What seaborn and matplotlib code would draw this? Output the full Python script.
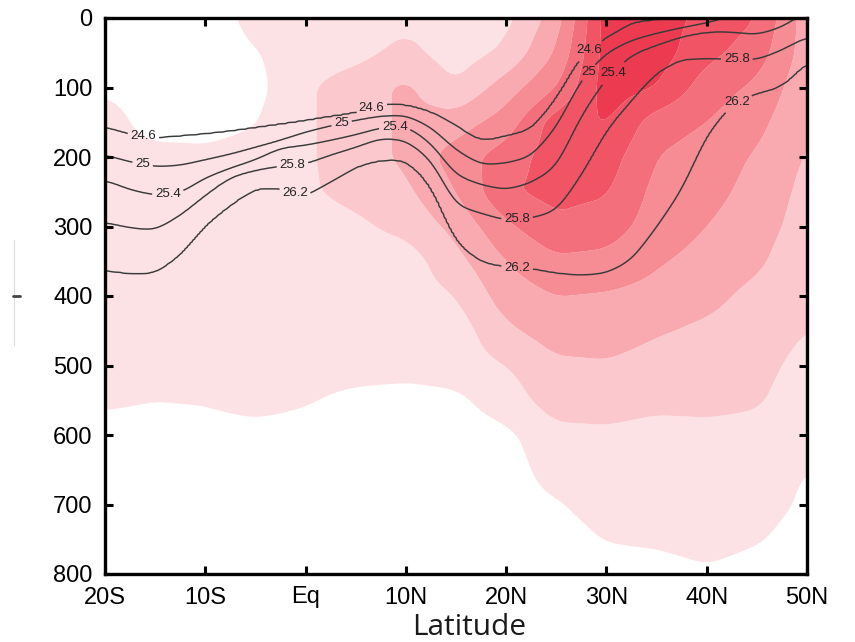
import numpy as np
import matplotlib
matplotlib.use("Agg")
import matplotlib.pyplot as plt
from matplotlib.lines import Line2D
import seaborn as sns

# ---------------- data ----------------
lat_nodes = [-20, -17.5, -15, -12.5, -10, -7.5, -5, -2.5, 0, 2.5, 5, 7.5, 10, 12.5,
             15, 17.5, 20, 22.5, 25, 27.5, 30, 32.5, 35, 37.5, 40, 42.5, 45, 47.5, 50]
sigma_levels = [24.6, 25.0, 25.4, 25.8, 26.2]
# depth (m) of each isopycnal at lat_nodes (negative = outcropped)
depth_246 = [157, 168, 173, 170, 167, 163, 158, 153, 148, 142, 137, 125, 125, 135,
             155, 178, 170, 161, 117, 55, 29, 7, 3, -2, -8, -14, -20, -26, -32]
depth_250 = [197, 207, 214, 212, 204, 196, 186, 176, 164, 155, 147, 141, 140, 157,
             190, 211, 209, 199, 157, 88, 50, 32, 22, 14, 7, -3, -10, -17, -24]
depth_254 = [233, 247, 255, 252, 230, 216, 204, 187, 183, 176, 168, 158, 155, 180,
             226, 240, 247, 237, 214, 140, 86, 53, 39, 27, 20, 20, 24, 13, -10]
depth_258 = [294, 302, 305, 284, 255, 229, 219, 213, 210, 197, 186, 173, 176, 204,
             269, 281, 291, 288, 277, 226, 161, 118, 78, 59, 58, 59, 60, 46, 27]
depth_262 = [363, 368, 367, 341, 298, 269, 245, 245, 256, 236, 214, 204, 204, 240,
             322, 351, 358, 360, 367, 370, 367, 348, 301, 247, 168, 124, 108, 99, 63]

label_text = {24.6: "24.6", 25.0: "25", 25.4: "25.4", 25.8: "25.8", 26.2: "26.2"}
label_spots = [(-16.2, 174), (-16.3, 214), (-13.7, 255), (-1.3, 212), (-1.1, 255),
               (6.6, 130), (3.6, 152), (8.9, 157),
               (21.1, 292), (21.1, 358),
               (28.2, 45), (28.0, 76), (30.7, 80),
               (43.0, 59), (43.0, 120)]

# shading band index (0 = white ... 7 = darkest) on a 5 deg x 50 m grid
shade_lats = [-20, -15, -10, -5, 0, 5, 10, 15, 20, 25, 30, 35, 40, 45, 50]
shade_depths = [0, 50, 100, 150, 200, 250, 300, 350, 400, 450, 500, 550, 600, 650, 700, 750, 800]
shade_000 = [0, 0, 0, 0.8, 1, 1, 1.2, 1, 1.2, 3, 7, 7, 6.2, 5.5, 3]
shade_050 = [0, 0, 0, 0.45, 1, 1.2, 1.8, 1.0, 1.7, 3.6, 7, 7, 5.8, 5, 3]
shade_100 = [0.3, 0, 0, 0.2, 1.36, 2, 2.7, 1.6, 3, 4.5, 7, 6.5, 5, 4.3, 2.8]
shade_150 = [1, 0, 0, 0.45, 1.36, 2, 2.7, 3, 4, 6, 6.6, 5, 4.5, 3.8, 2.6]
shade_200 = [1, 0.9, 0.8, 1, 1.36, 2, 2.7, 4, 5, 6, 6, 4.5, 4, 3.4, 2.4]
shade_250 = [1, 1, 1, 1, 1.36, 1.8, 2.3, 3.5, 5.4, 5.8, 5.6, 4.2, 3.8, 3.2, 2.2]
shade_300 = [1, 1, 1, 1, 1, 1.3, 1.8, 2.8, 4.3, 5.3, 5, 4, 3.5, 3, 2]
shade_350 = [1, 1, 1, 1, 1, 1, 1, 2.2, 3.5, 4.3, 4.2, 3.6, 3.2, 2.7, 1.7]
shade_400 = [1, 1, 1, 1, 1, 1, 1, 1.5, 3, 3.5, 3.4, 3.2, 2.8, 2.2, 1.6]
shade_450 = [1, 1, 1, 1, 1, 1, 1, 1, 2.3, 3, 3, 2.6, 2.3, 2, 1.5]
shade_500 = [1, 1, 1, 1, 1, 1, 1, 1, 1.5, 2.3, 2.4, 2.1, 2, 1.8, 1.2]
shade_550 = [0.7, 0.52, 0.6, 1, 0.6, 0.2, 0, 0.3, 1, 2, 2, 1.8, 1.8, 1.6, 1]
shade_600 = [0, 0, 0, 0, 0, 0, 0, 0, 0.3, 1.2, 1.3, 1.1, 1.2, 1.2, 0.8]
shade_650 = [0, 0, 0, 0, 0, 0, 0, 0, 0, 1, 1, 1, 1, 1, 0.5]
shade_700 = [0, 0, 0, 0, 0, 0, 0, 0, 0, 0.4, 1, 1, 1, 1, 0.3]
shade_750 = [0, 0, 0, 0, 0, 0, 0, 0, 0, 0, 0.55, 0.7, 1, 0.6, 0]
shade_800 = [0, 0, 0, 0, 0, 0, 0, 0, 0, 0, 0, 0, 0.3, 0, 0]
shade_colors = ["#fde2e5", "#fbc9cd", "#f9aab0", "#f68c94", "#f36f7b", "#f05465", "#ec3a50"]

x_ticks = [-20, -10, 0, 10, 20, 30, 40, 50]
x_ticklabels = ["20S", "10S", "Eq", "10N", "20N", "30N", "40N", "50N"]
y_ticks = [0, 100, 200, 300, 400, 500, 600, 700, 800]


# ---------------- helpers (rendering grids built from the data) ----------------
def smooth1d(a, w, axis):
    pad = w // 2
    widths = [(pad, pad) if i == axis else (0, 0) for i in range(a.ndim)]
    ap = np.pad(a, widths, mode="edge")
    k = np.ones(w) / w
    return np.apply_along_axis(lambda v: np.convolve(v, k, mode="valid"), axis, ap)


# density field from isopycnal depths
lat_f = np.arange(-20, 50.001, 0.25)
z_f = np.arange(0, 800.001, 2.0)
iso = []
for d in [depth_246, depth_250, depth_254, depth_258, depth_262]:
    df = np.interp(lat_f, lat_nodes, d)
    df = smooth1d(smooth1d(df[None, :], 7, 1), 7, 1)[0]
    iso.append(df)
iso = np.array(iso)
sig = np.empty((z_f.size, lat_f.size))
for j in range(lat_f.size):
    zz = np.concatenate([[-2000.0], iso[:, j], [4000.0]])
    ss = np.concatenate([[20.0], sigma_levels, [32.0]])
    sig[:, j] = np.interp(z_f, zz, ss)

# shading field
shade = np.array([shade_000, shade_050, shade_100, shade_150, shade_200, shade_250,
                  shade_300, shade_350, shade_400, shade_450, shade_500, shade_550,
                  shade_600, shade_650, shade_700, shade_750, shade_800], dtype=float)
lat_s = np.arange(-20, 50.001, 0.5)
z_s = np.arange(0, 800.001, 5.0)
tmp = np.array([np.interp(z_s, shade_depths, shade[:, j]) for j in range(shade.shape[1])]).T
sh = np.array([np.interp(lat_s, shade_lats, tmp[i, :]) for i in range(tmp.shape[0])])
sh = smooth1d(smooth1d(sh, 5, 1), 5, 0)

# ---------------- figure ----------------
sns.set_style("white")
plt.rcParams["font.family"] = ["Liberation Sans", "DejaVu Sans"]

fig = plt.figure(figsize=(8.55, 6.42), dpi=100)
ax = fig.add_axes([105 / 855, 1 - 574 / 642, 702 / 855, 556 / 642])
ax.set_axisbelow(False)

ax.contourf(lat_s, z_s, sh, levels=[0.5, 1.5, 2.5, 3.5, 4.5, 5.5, 6.5, 9],
            colors=sns.color_palette(shade_colors), antialiased=True)
cs = ax.contour(lat_f, z_f, sig, levels=sigma_levels, colors="#3a3a3a", linewidths=1.05)
texts = ax.clabel(cs, levels=sigma_levels, manual=label_spots, inline=True, inline_spacing=3,
                  fontsize=9.5, fmt=label_text, colors="#222222")
for t in texts:
    t.set_rotation(0)

ax.set_xlim(-20, 50)
ax.set_ylim(800, 0)
ax.set_xticks(x_ticks)
ax.set_xticklabels(x_ticklabels)
ax.set_yticks(y_ticks)
ax.tick_params(direction="in", length=6, width=2.2, bottom=True, left=True, top=True, right=True,
               labeltop=False, labelright=False, labelsize=17, colors="black", zorder=5)
ax.tick_params(axis="y", pad=9)
ax.tick_params(axis="x", pad=9)
for s in ax.spines.values():
    s.set_linewidth(2.4)
    s.set_color("black")
    s.set_zorder(6)
ax.set_xlabel("")
ax.set_ylabel("")

fig.text(469 / 855, 1 - 635 / 642, "Latitude", ha="center", va="baseline",
         fontsize=21.5, family=["Open Sans", "DejaVu Sans"], color="#1a1a1a")

# remnants of the cropped y-axis title at the left edge
fig.add_artist(Line2D([14 / 855, 14 / 855], [1 - 345 / 642, 1 - 240 / 642],
                      color="#dddddd", lw=0.8))
fig.add_artist(Line2D([13 / 855, 20 / 855], [1 - 296 / 642, 1 - 296 / 642],
                      color="#444444", lw=2.0))

fig.savefig("out.png", dpi=100)
